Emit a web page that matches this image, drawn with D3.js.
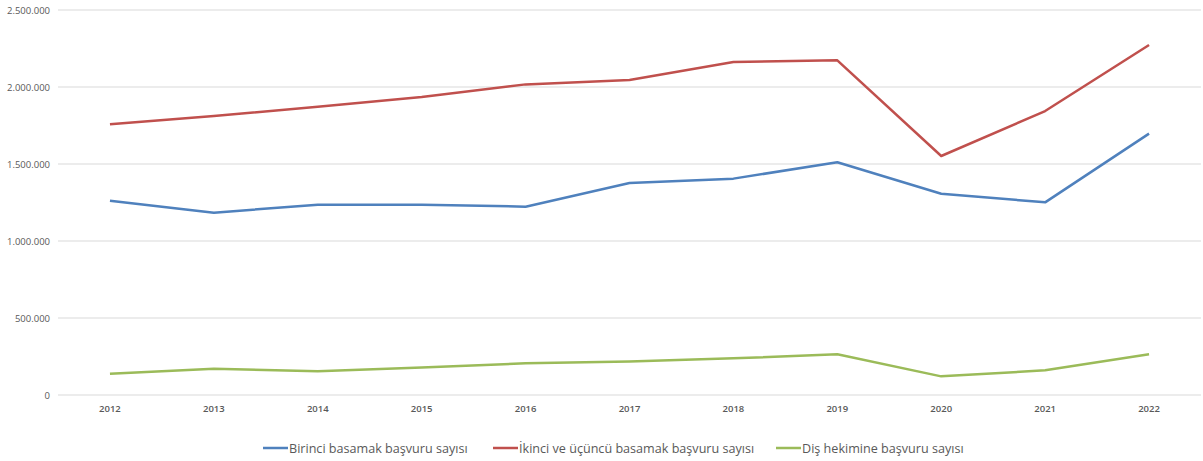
<!DOCTYPE html>
<html>
<head>
<meta charset="utf-8">
<script src="https://cdn.jsdelivr.net/npm/d3@7"></script>
<style>
  body { margin: 0; background: #fff; }
  svg { font-family: "Open Sans", "Liberation Sans", sans-serif; }
</style>
</head>
<body>
<div id="chart"></div>
<script>
var years = ["2012", "2013", "2014", "2015", "2016", "2017", "2018", "2019", "2020", "2021", "2022"];
var birinci = [1262000, 1184000, 1236000, 1236000, 1223000, 1377000, 1405000, 1511000, 1307000, 1251000, 1697000];
var ikinci = [1758000, 1812000, 1872000, 1935000, 2017000, 2045000, 2162000, 2173000, 1552000, 1844000, 2273000];
var dis = [138000, 171000, 154000, 178000, 206000, 218000, 238000, 264000, 121000, 160000, 264000];
var seriesNames = ["Birinci basamak başvuru sayısı", "İkinci ve üçüncü basamak başvuru sayısı", "Diş hekimine başvuru sayısı"];
var seriesColors = ["#4f81bd", "#c0504d", "#9bbb59"];
var yTicks = [0, 500000, 1000000, 1500000, 2000000, 2500000];

function init() {
    var w = 1203;
    var h = 461;

    var svg = d3.select("#chart")
                .append("svg")
                .attr("width", w)
                .attr("height", h);

    var x = d3.scaleBand()
              .domain(years)
              .range([58, 1201]);

    var y = d3.scaleLinear()
              .domain([0, 2500000])
              .range([395, 10]);

    var fmt = function(v) {
        return d3.format(",")(v).replace(/,/g, ".");
    };

    // gridlines
    svg.selectAll("line.grid")
        .data(yTicks)
        .enter()
        .append("line")
        .attr("class", "grid")
        .attr("x1", 58)
        .attr("x2", 1201)
        .attr("y1", function(d) { return y(d); })
        .attr("y2", function(d) { return y(d); })
        .attr("stroke", "#d9d9d9")
        .attr("stroke-width", 1);

    // y labels
    svg.selectAll("text.ylab")
        .data(yTicks)
        .enter()
        .append("text")
        .attr("class", "ylab")
        .attr("x", 50)
        .attr("y", function(d) { return y(d) + 3.5; })
        .attr("text-anchor", "end")
        .attr("font-size", "9.5px")
        .attr("fill", "#595959")
        .text(function(d) { return fmt(d); });

    // x labels
    svg.selectAll("text.xlab")
        .data(years)
        .enter()
        .append("text")
        .attr("class", "xlab")
        .attr("x", function(d) { return x(d) + x.bandwidth() / 2; })
        .attr("y", 412)
        .attr("text-anchor", "middle")
        .attr("font-size", "9.5px")
        .attr("font-weight", 600)
        .attr("fill", "#595959")
        .text(function(d) { return d; });

    var allSeries = [birinci, ikinci, dis];

    var line = d3.line()
                 .x(function(d, i) { return x(years[i]) + x.bandwidth() / 2; })
                 .y(function(d) { return y(d); });

    svg.selectAll("path.series")
        .data(allSeries)
        .enter()
        .append("path")
        .attr("class", "series")
        .attr("d", line)
        .attr("fill", "none")
        .attr("stroke", function(d, i) { return seriesColors[i]; })
        .attr("stroke-width", 2.5)
        .attr("stroke-linejoin", "round");

    // legend
    var legendX = [263, 493, 776];
    var legend = svg.selectAll("g.legend")
        .data(seriesNames)
        .enter()
        .append("g")
        .attr("class", "legend")
        .attr("transform", function(d, i) { return "translate(" + legendX[i] + ",448)"; });

    legend.append("line")
        .attr("x1", 0)
        .attr("x2", 25)
        .attr("y1", 0)
        .attr("y2", 0)
        .attr("stroke", function(d, i) { return seriesColors[i]; })
        .attr("stroke-width", 2.5);

    legend.append("text")
        .attr("x", 26)
        .attr("y", 4.5)
        .attr("font-size", "12.6px")
        .attr("fill", "#595959")
        .text(function(d) { return d; });
}

window.onload = init;
</script>
</body>
</html>
